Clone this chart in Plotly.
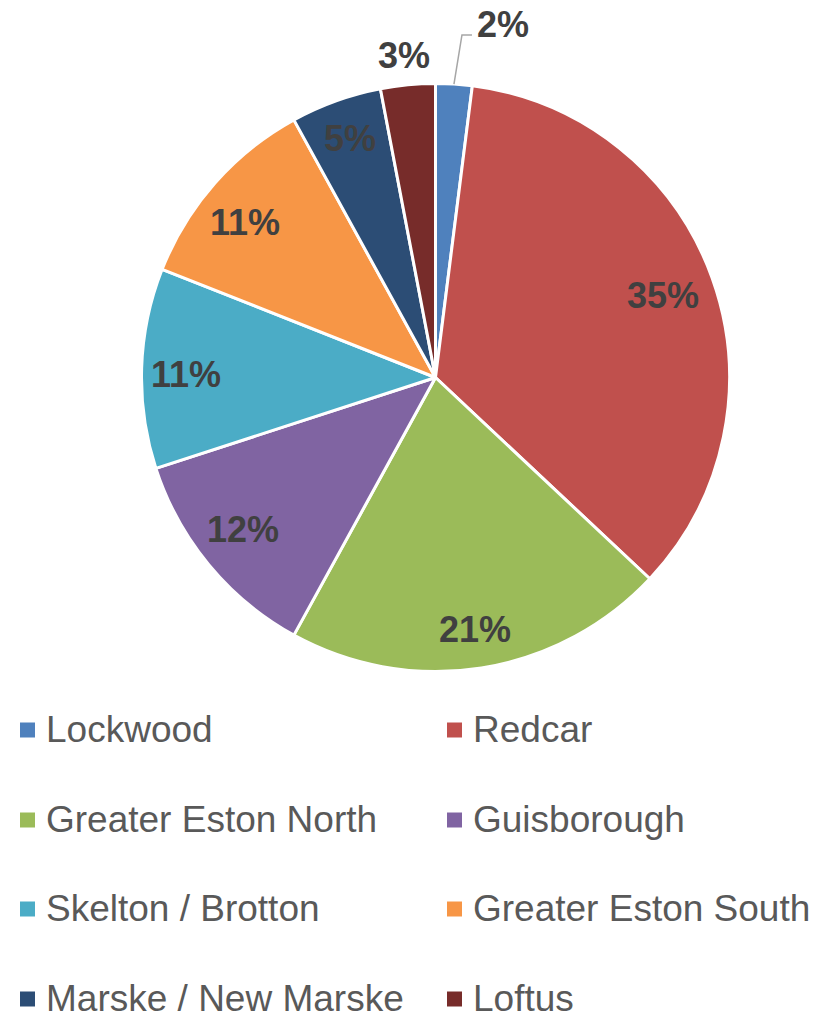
import numpy as np
import plotly.graph_objects as go

# Share of the total by area
areas = ["Lockwood", "Redcar", "Greater Eston North", "Guisborough",
         "Skelton / Brotton", "Greater Eston South", "Marske / New Marske", "Loftus"]
shares = [2, 35, 21, 12, 11, 11, 5, 3]
colors = ["#4F81BD", "#C0504D", "#9BBB59", "#8064A2",
          "#4BACC6", "#F79646", "#2C4D75", "#772C2A"]

W, H = 826, 1017
CX, CY, R = 435.5, 377.5, 294.0   # pie centre and radius in pixels

# small pixel nudges applied to each percentage label
label_nudge = [(0, 0), (-6, 2), (1, 7), (-1, -6), (-2, 5), (-4, 9), (-1, -6), (-1, -1)]

def px(x):
    return x / W

def py(y):
    return 1 - y / H

fig = go.Figure(go.Pie(
    labels=areas,
    values=shares,
    sort=False,
    direction="clockwise",
    rotation=0,
    marker=dict(colors=colors, line=dict(color="white", width=3)),
    textinfo="none",
    hoverinfo="label+percent",
    showlegend=False,
    domain=dict(x=[px(CX - R), px(CX + R)], y=[py(CY + R), py(CY - R)]),
))

# Percentage labels, placed along each slice's mid-angle
vals = np.array(shares, dtype=float)
frac = vals / vals.sum()
mid = (np.cumsum(frac) - frac / 2) * 2 * np.pi
label_font = dict(family="Liberation Sans, Arial, sans-serif", size=36,
                  color="#404040", weight="bold")
annotations = []
shapes = []
for i, (v, a) in enumerate(zip(shares, mid)):
    dx, dy = np.sin(a), -np.cos(a)
    text = f"{v}%"
    if i == 0:
        # small slice: label pulled out with a leader line
        x0, y0 = CX + dx * R, CY + dy * R
        x1, y1 = x0 + 8, 35
        x2, y2 = x1 + 10, 35
        shapes.append(dict(
            type="path", xref="paper", yref="paper",
            path=f"M {px(x0)},{py(y0)} L {px(x1)},{py(y1)} L {px(x2)},{py(y2)}",
            line=dict(color="#A6A6A6", width=1.5),
        ))
        annotations.append(dict(x=px(x2 + 3), y=py(25), xref="paper", yref="paper",
                                text=text, showarrow=False, xanchor="left",
                                yanchor="middle", font=label_font))
        continue
    d = 322 if v == 3 else 248
    nx, ny = label_nudge[i]
    annotations.append(dict(x=px(CX + dx * d + nx), y=py(CY + dy * d + ny),
                            xref="paper", yref="paper", text=text,
                            showarrow=False, xanchor="center", yanchor="middle",
                            font=label_font))

# Legend in two columns beneath the pie
legend_font = dict(family="Liberation Sans, Arial, sans-serif", size=37, color="#595959")
col_x = [20, 447]
row_y = [730, 820, 909, 999]
for i, (name, c) in enumerate(zip(areas, colors)):
    x = col_x[i % 2]
    y = row_y[i // 2]
    shapes.append(dict(type="rect", xref="paper", yref="paper",
                       x0=px(x), x1=px(x + 15), y0=py(y + 7.5), y1=py(y - 7.5),
                       fillcolor=c, line=dict(width=0)))
    annotations.append(dict(x=px(x + 24), y=py(y - 1), xref="paper", yref="paper",
                            text=name, showarrow=False, xanchor="left",
                            yanchor="middle", font=legend_font))

fig.update_layout(
    width=W, height=H,
    margin=dict(l=0, r=0, t=0, b=0),
    paper_bgcolor="white",
    plot_bgcolor="white",
    annotations=annotations,
    shapes=shapes,
)

fig.write_html("out.html")
